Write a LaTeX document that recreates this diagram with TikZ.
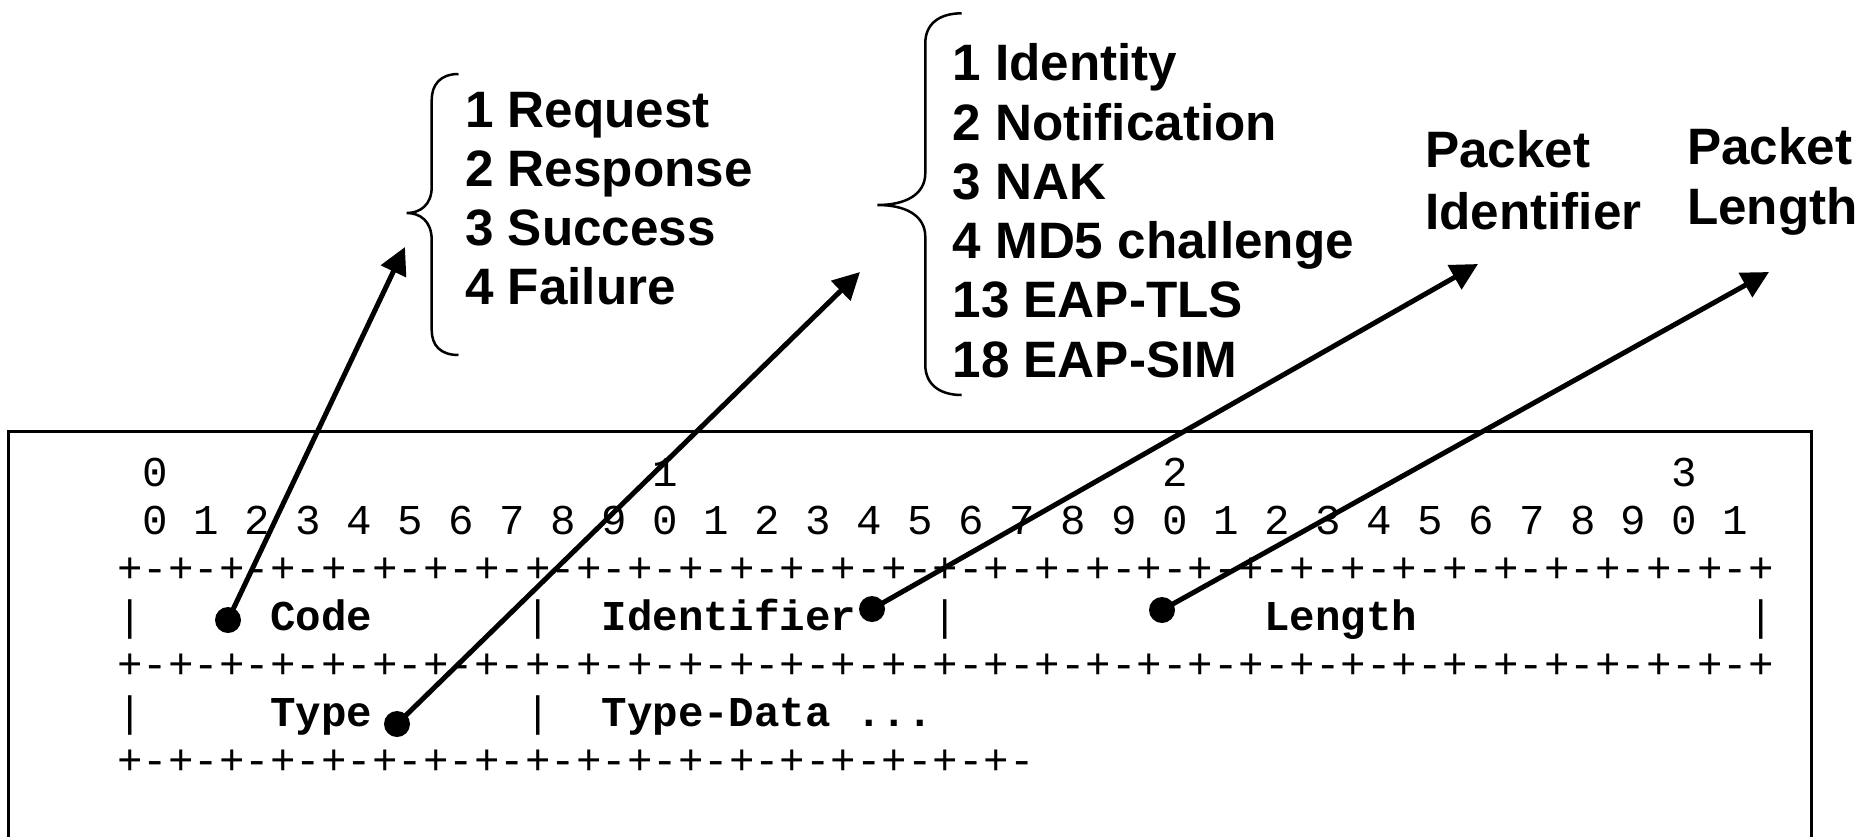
\documentclass[tikz,border=0pt]{standalone}
\usepackage{fontspec}
\setmainfont{Liberation Sans}
\newfontfamily\arialfont{Liberation Sans}
\newfontfamily\monofont{Liberation Mono}
\usetikzlibrary{arrows.meta}
\def\pq{+-+-+-+-}
\begin{document}
\begin{tikzpicture}[x=1pt,y=-1pt,
  lab/.style={font=\arialfont\bfseries\fontsize{51.2}{59}\selectfont, inner sep=0pt, anchor=base west},
  mono/.style={font=\monofont\fontsize{42.47}{48}\selectfont, inner sep=0pt, anchor=base west},
  monob/.style={font=\monofont\bfseries\fontsize{42.47}{48}\selectfont, inner sep=0pt, anchor=base west},
  bracepath/.style={line width=2.5pt},
  dot/.style={circle, fill=black, inner sep=0pt, minimum size=26pt},
  pointer/.style={line width=5pt, -{Triangle[length=27pt,width=27pt]}},
  frame/.style={line width=3pt}]
\useasboundingbox (0,0) rectangle (1861,836);
\clip (0,0) rectangle (1861,836);

% frame
\draw[frame] (8.5,431) rectangle (1811,900);

% bit ruler
\node[mono] (h0) at (142.74,486) {0};
\node[mono] (h1) at (652.34,486) {1};
\node[mono] (h2) at (1161.94,486) {2};
\node[mono] (h3) at (1671.54,486) {3};
\node[mono] (bits) at (142.74,534.1) {0 1 2 3 4 5 6 7 8 9 0 1 2 3 4 5 6 7 8 9 0 1 2 3 4 5 6 7 8 9 0 1};
\node[mono] (sepA) at (117.26,582.2) {\pq\pq\pq\pq\pq\pq\pq\pq+};
\node[mono] (barA0) at (117.26,630.3) {|};
\node[monob] (code) at (270.14,630.3) {Code};
\node[mono] (barA1) at (524.94,630.3) {|};
\node[monob] (ident) at (601.38,630.3) {Identifier};
\node[mono] (barA2) at (932.62,630.3) {|};
\node[monob] (length) at (1263.86,630.3) {Length};
\node[mono] (barA3) at (1747.98,630.3) {|};
\node[mono] (sepB) at (117.26,678.4) {\pq\pq\pq\pq\pq\pq\pq\pq+};
\node[mono] (barB0) at (117.26,726.5) {|};
\node[monob] (type) at (270.14,726.5) {Type};
\node[mono] (barB1) at (524.94,726.5) {|};
\node[monob] (tdata) at (601.38,726.5) {Type-Data ...};
\node[mono] (sepC) at (117.26,774.6) {\pq\pq\pq\pq+-+-};

% left list
\foreach \t [count=\i] in {1 Request, 2 Response, 3 Success, 4 Failure}
  \node[lab] (codev\i) at (465,{127+59.1*(\i-1)}) {\t};
% right list
\foreach \t [count=\i] in {1 Identity, 2 Notification, 3 NAK, 4 MD5 challenge, 13 EAP-TLS, 18 EAP-SIM}
  \node[lab] (typev\i) at (952.5,{80.7+59.3*(\i-1)}) {\t};

\node[lab] (pid1) at (1425,167) {Packet};
\node[lab] (pid2) at (1425,229) {Identifier};
\node[lab] (plen1) at (1687,164) {Packet};
\node[lab] (plen2) at (1687,224) {Length};

% braces
\draw[bracepath] (458.5,74) .. controls (440,74) and (431.7,85) .. (431.7,100) -- (431.7,187)
  .. controls (431.7,205) and (420,213) .. (406.8,213)
  .. controls (420,213) and (431.7,221) .. (431.7,240) -- (431.7,330)
  .. controls (431.7,345) and (440,355) .. (458.5,355);
\draw[bracepath] (961.7,13.3) .. controls (938,13.3) and (925.3,25) .. (925.3,43) -- (925.3,173)
  .. controls (925.3,195) and (905,205) .. (877.5,205)
  .. controls (905,205) and (925.3,215) .. (925.3,237) -- (925.3,365)
  .. controls (925.3,383) and (938,395) .. (961.7,395);

% pointers
\node[dot] (dcode) at (228,620) {};
\node[dot] (dtype) at (397,724) {};
\node[dot] (did) at (872,609) {};
\node[dot] (dlen) at (1162,610) {};
\coordinate (tcode) at (405,247);
\coordinate (ttype) at (860,272);
\coordinate (tid) at (1478,264);
\coordinate (tlen) at (1769,272);
\draw[pointer] (dcode.center) -- (tcode);
\draw[pointer] (dtype.center) -- (ttype);
\draw[pointer] (did.center) -- (tid);
\draw[pointer] (dlen.center) -- (tlen);
\end{tikzpicture}
\end{document}
